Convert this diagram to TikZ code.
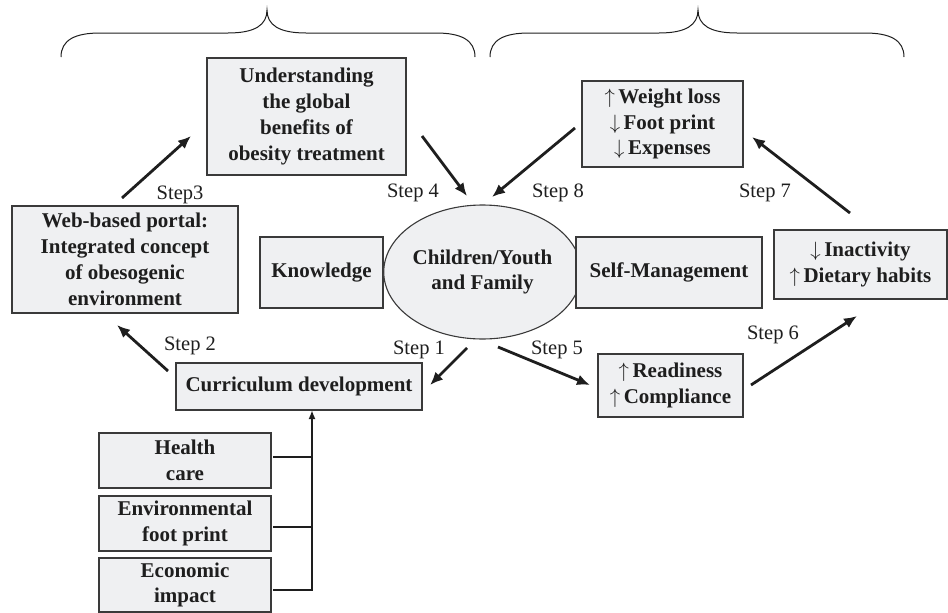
\documentclass[tikz,border=0pt]{standalone}
\usepackage{fontspec}
\setmainfont{Liberation Serif}
\usetikzlibrary{shapes.geometric,arrows.meta}
\definecolor{boxfill}{HTML}{EFF0F2}
\definecolor{boxline}{HTML}{3A3A3A}
\definecolor{ink}{HTML}{1E1E1E}
\newcommand{\upar}{$\uparrow$\,}
\newcommand{\dnar}{$\downarrow$\,}
\begin{document}
\begin{tikzpicture}[x=1pt,y=-1pt,
  txt/.style={font=\fontsize{21}{25.8}\selectfont\bfseries, text=ink, align=center},
  box/.style={txt, draw=boxline, fill=boxfill, line width=1.1pt, inner sep=0pt, rectangle},
  steplbl/.style={font=\fontsize{20.5}{24}\selectfont, text=ink, inner sep=0pt},
  flow/.style={draw=ink, line width=2.8pt, -{Latex[length=13pt,width=11pt]}},
  feed/.style={draw=ink, line width=1.8pt},
  brace/.style={draw=ink, line width=1pt}
]
\useasboundingbox (0,0) rectangle (948,613);

% braces
\draw[brace] (61,57) .. controls (61,40) and (75,33) .. (100,33) -- (228,33)
  .. controls (255,33) and (267,25) .. (267,10)
  .. controls (267,25) and (279,33) .. (306,33) -- (436,33)
  .. controls (461,33) and (475,40) .. (475,57);
\draw[brace] (490,57) .. controls (490,40) and (504,33) .. (529,33) -- (659,33)
  .. controls (686,33) and (698,25) .. (698,10)
  .. controls (698,25) and (710,33) .. (737,33) -- (865,33)
  .. controls (890,33) and (904,40) .. (904,57);

% boxes
\node[box, minimum width=199pt, minimum height=117pt] (und) at (306.5,116.5)
  {Understanding\\the global\\benefits of\\obesity treatment};
\node[box, minimum width=226pt, minimum height=107pt] (web) at (125,259.5)
  {Web-based portal:\\Integrated concept\\of obesogenic\\environment};
\node[box, minimum width=123pt, minimum height=71pt] (know) at (321.5,272.5) {Knowledge};
\node[txt, ellipse, draw=boxline, fill=boxfill, line width=1.1pt, inner sep=0pt,
  minimum width=169pt, minimum height=134pt] (fam) at (482.5,272)
  {Children/Youth\\and Family};
\node[box, minimum width=246pt, minimum height=47pt] (curr) at (299,386.5) {Curriculum development};
\node[box, minimum width=161pt, minimum height=86pt] (wt) at (662.5,124)
  {\upar Weight loss\\\dnar Foot print\\\dnar Expenses};
\node[box, minimum width=186pt, minimum height=71pt] (self) at (669,272.5) {Self-Management};
\node[box, minimum width=173pt, minimum height=69pt] (inact) at (860.5,264.5)
  {\dnar Inactivity\\\upar Dietary habits};
\node[box, minimum width=145pt, minimum height=63pt] (ready) at (670.5,385.5)
  {\upar Readiness\\\upar Compliance};
\node[box, minimum width=172pt, minimum height=55pt] (health) at (185,460.5) {Health\\care};
\node[box, minimum width=172pt, minimum height=55pt] (env) at (185,523.5) {Environmental\\foot print};
\node[box, minimum width=172pt, minimum height=54pt] (econ) at (185,585) {Economic\\impact};

% arrow end points
\coordinate (s3a) at (122,198); \coordinate (s3b) at (191,136);
\coordinate (s4a) at (422,136); \coordinate (s4b) at (467,196);
\coordinate (s8a) at (575,128); \coordinate (s8b) at (492,197);
\coordinate (s7a) at (850,213); \coordinate (s7b) at (752,137);
\coordinate (s1a) at (467,348); \coordinate (s1b) at (430,385);
\coordinate (s2a) at (168,371); \coordinate (s2b) at (117,325);
\coordinate (s5a) at (498,347); \coordinate (s5b) at (590,385);
\coordinate (s6a) at (751,385); \coordinate (s6b) at (857,316);

\draw[flow] (s3a) -- (s3b);
\draw[flow] (s4a) -- (s4b);
\draw[flow] (s8a) -- (s8b);
\draw[flow] (s7a) -- (s7b);
\draw[flow] (s1a) -- (s1b);
\draw[flow] (s2a) -- (s2b);
\draw[flow] (s5a) -- (s5b);
\draw[flow] (s6a) -- (s6b);

% step labels
\node[steplbl] (l3) at (180,195) {Step3};
\node[steplbl] (l4) at (413,193) {Step 4};
\node[steplbl] (l8) at (558,193) {Step 8};
\node[steplbl] (l7) at (765,193) {Step 7};
\node[steplbl] (l1) at (419,350) {Step 1};
\node[steplbl] (l2) at (190,346) {Step 2};
\node[steplbl] (l5) at (557,350) {Step 5};
\node[steplbl] (l6) at (773,335) {Step 6};

% feeders into curriculum
\coordinate (h1) at (273,457); \coordinate (h2) at (312,457);
\coordinate (e1) at (273,527); \coordinate (e2) at (312,527);
\coordinate (c1) at (273,590); \coordinate (c2) at (312,590);
\coordinate (ctop) at (312,410);
\draw[feed] (h1) -- (h2);
\draw[feed] (e1) -- (e2);
\draw[feed] (c1) -- (c2) -- (h2);
\draw[draw=ink, line width=1.8pt, -{Latex[length=9pt,width=7pt]}] (h2) -- (ctop);
\end{tikzpicture}
\end{document}
